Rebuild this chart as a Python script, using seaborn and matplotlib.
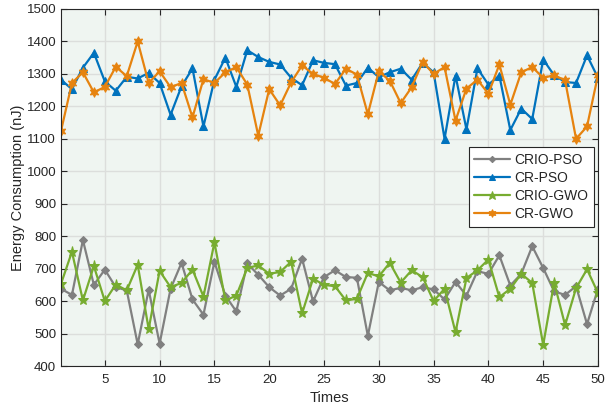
import numpy as np
import pandas as pd
import matplotlib
matplotlib.use("Agg")
import matplotlib.pyplot as plt
import seaborn as sns

times = list(range(1, 51))

crio_pso = [638, 619, 788, 650, 697, 643, 633, 467, 635, 469,
            638, 718, 605, 558, 721, 617, 568, 716, 681, 643,
            617, 638, 731, 599, 674, 695, 674, 672, 493, 659,
            633, 641, 633, 643, 636, 605, 659, 617, 692, 684,
            741, 648, 684, 769, 702, 630, 619, 646, 529, 638]

cr_pso = [1282, 1253, 1319, 1365, 1277, 1248, 1291, 1286, 1303, 1272,
          1174, 1262, 1317, 1138, 1282, 1350, 1260, 1373, 1352, 1337,
          1329, 1288, 1265, 1342, 1334, 1330, 1264, 1272, 1319, 1290,
          1305, 1316, 1282, 1334, 1305, 1100, 1295, 1129, 1317, 1267,
          1295, 1127, 1193, 1161, 1344, 1296, 1275, 1272, 1357, 1288]

crio_gwo = [653, 752, 602, 708, 600, 651, 633, 712, 514, 693,
            643, 656, 697, 614, 781, 602, 617, 702, 710, 684,
            690, 721, 562, 669, 650, 646, 602, 607, 687, 676,
            718, 657, 695, 674, 600, 638, 504, 671, 695, 728,
            612, 638, 684, 656, 465, 657, 526, 640, 698, 625]

cr_gwo = [1124, 1272, 1305, 1243, 1260, 1322, 1293, 1400, 1272, 1308,
          1259, 1272, 1166, 1284, 1272, 1305, 1321, 1267, 1110, 1253,
          1203, 1274, 1326, 1300, 1288, 1269, 1316, 1298, 1176, 1308,
          1279, 1210, 1259, 1337, 1300, 1321, 1156, 1255, 1282, 1239,
          1329, 1205, 1305, 1321, 1288, 1296, 1280, 1100, 1138, 1296]

series_names = ["CRIO-PSO", "CR-PSO", "CRIO-GWO", "CR-GWO"]
series_values = [crio_pso, cr_pso, crio_gwo, cr_gwo]
x_ticks = [5, 10, 15, 20, 25, 30, 35, 40, 45, 50]
y_ticks = list(range(400, 1501, 100))

df = pd.concat([pd.DataFrame({"Times": times, "Energy": v, "Algorithm": n})
                for n, v in zip(series_names, series_values)], ignore_index=True)

palette = {"CRIO-PSO": "#808080", "CR-PSO": "#0072BD",
           "CRIO-GWO": "#77AC30", "CR-GWO": "#E6830F"}
markers = {"CRIO-PSO": "D", "CR-PSO": "^", "CRIO-GWO": "*", "CR-GWO": (6, 1, 0)}
msizes = {"CRIO-PSO": 4, "CR-PSO": 6, "CRIO-GWO": 8, "CR-GWO": 7}

sns.set_theme(style="white")
plt.rcParams["font.family"] = ["Liberation Sans", "DejaVu Sans"]

fig = plt.figure(figsize=(6.05, 4.07), dpi=100)
ax = fig.add_axes([0.1008, 0.1007, 0.8876, 0.8772])
ax.set_facecolor("#EFF5F1")

for name in series_names:
    sub = df[df["Algorithm"] == name]
    sns.lineplot(data=sub, x="Times", y="Energy", ax=ax, color=palette[name],
                 marker=markers[name], markersize=msizes[name],
                 markeredgecolor=palette[name], markerfacecolor=palette[name],
                 linewidth=1.6, label=name, estimator=None, errorbar=None)

ax.set_xlim(1, 50)
ax.set_ylim(400, 1500)
ax.set_xticks(x_ticks)
ax.set_yticks(y_ticks)
ax.grid(True, color="#DCDEDC", linewidth=1.0)
ax.set_axisbelow(True)
for s in ax.spines.values():
    s.set_color("#262626")
    s.set_linewidth(0.8)
ax.tick_params(axis="both", direction="in", length=4, width=0.8, color="#262626",
               labelsize=9.5, labelcolor="#262626", top=True, right=True,
               bottom=True, left=True)
ax.tick_params(axis="x", pad=6)
ax.set_xlabel("Times", fontsize=10.5, color="#262626", labelpad=3)
ax.set_ylabel("Energy Consumption (nJ)", fontsize=10.5, color="#262626", labelpad=1)

leg = ax.legend(loc="upper right", bbox_to_anchor=(0.9926, 0.6135), fontsize=10,
                frameon=True, fancybox=False, framealpha=1.0, edgecolor="#262626",
                handlelength=2.6, borderpad=0.4, labelspacing=0.3,
                handletextpad=0.3, markerscale=0.8, borderaxespad=0)
leg.get_frame().set_linewidth(0.8)

fig.savefig("out.png", dpi=100)
